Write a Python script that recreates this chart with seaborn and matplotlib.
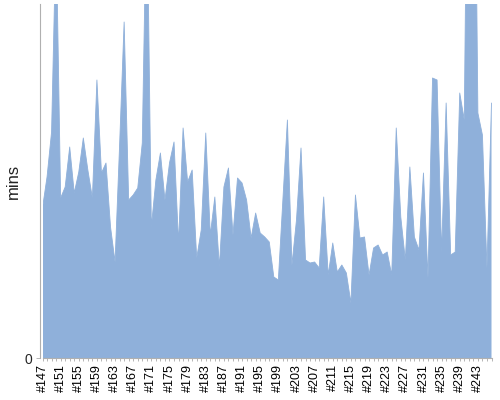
import matplotlib
matplotlib.use("Agg")
import matplotlib.pyplot as plt
import seaborn as sns
import numpy as np
import pandas as pd
from matplotlib.ticker import MultipleLocator, FixedLocator

builds = [f"#{n}" for n in range(147, 247)]
mins = [
    15.0, 18.1, 22.6, 43.0, 16.0, 17.1, 21.1, 16.5, 18.6, 22.0,
    18.8, 16.0, 27.8, 18.5, 19.5, 13.1, 9.6, 21.3, 33.6, 15.8,
    16.3, 17.0, 21.5, 48.0, 13.1, 17.8, 20.5, 15.8, 19.5, 21.6,
    11.5, 23.0, 17.6, 18.8, 10.0, 12.8, 22.5, 12.3, 16.1, 9.1,
    17.1, 19.0, 12.3, 18.0, 17.5, 15.8, 12.0, 14.5, 12.5, 12.1,
    11.6, 8.1, 7.8, 15.8, 23.8, 9.3, 13.8, 21.0, 9.8, 9.5,
    9.6, 9.0, 16.1, 8.3, 11.5, 8.6, 9.3, 8.5, 5.5, 16.3,
    12.0, 12.1, 8.3, 11.0, 11.3, 10.3, 10.6, 8.3, 23.0, 14.1,
    9.8, 19.1, 12.1, 10.8, 18.5, 8.0, 28.0, 27.8, 10.5, 25.5,
    10.3, 10.6, 26.5, 23.8, 70.0, 70.0, 24.5, 22.3, 9.0, 25.5,
]
label_step = 4

df = pd.DataFrame({"build": builds, "mins": mins})
df["pos"] = np.arange(len(df))

sns.set_style("white")
plt.rcParams["font.family"] = ["Liberation Sans", "DejaVu Sans"]

fig = plt.figure(figsize=(5, 4), dpi=100)
ax = fig.add_axes([0.085, 0.105, 0.898, 0.885])

fill_color = "#8fb0da"
ax.fill_between(df["pos"], df["mins"], 0, color=fill_color, linewidth=0)
sns.lineplot(data=df, x="pos", y="mins", ax=ax, color=fill_color, linewidth=0.6)

ax.set_xlim(0, len(df) - 1)
ax.set_ylim(0, 35.4)

ax.xaxis.set_major_locator(FixedLocator(df["pos"][::label_step].tolist()))
ax.set_xticklabels(df["build"][::label_step].tolist(), rotation=90, fontsize=9, color="#000000")
ax.xaxis.set_minor_locator(MultipleLocator(1))
ax.tick_params(axis="x", which="both", length=2.5, width=0.6, color="#aaaaaa", direction="out", bottom=True, pad=2)

ax.set_yticks([0])
ax.set_yticklabels(["0"], fontsize=10, color="#444444")
ax.tick_params(axis="y", length=3, width=0.6, color="#aaaaaa", left=True, pad=3)

ax.set_xlabel("")
ax.set_ylabel("mins", fontsize=12, color="#222222")
ax.yaxis.set_label_coords(-0.047, 0.5)

for side in ["top", "right"]:
    ax.spines[side].set_visible(False)
ax.spines["left"].set_color("#b0b0b0")
ax.spines["left"].set_linewidth(0.8)
ax.spines["left"].set_position(("data", -0.5))
ax.spines["bottom"].set_color("#b0b0b0")
ax.spines["bottom"].set_linewidth(0.8)
ax.set_facecolor("white")

fig.savefig("out.png", dpi=100, facecolor="white")
